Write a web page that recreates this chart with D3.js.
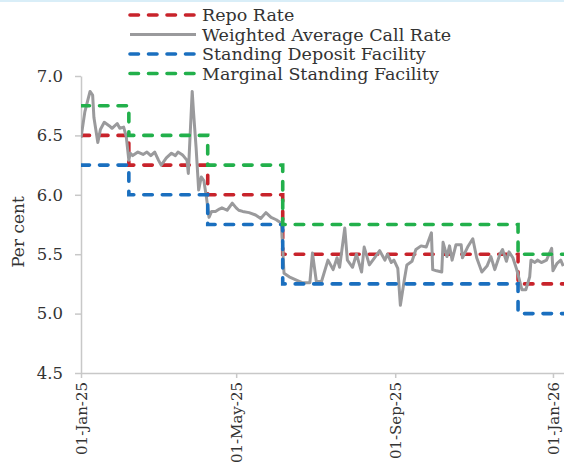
<!DOCTYPE html>
<html>
<head>
<meta charset="utf-8">
<script src="https://cdn.jsdelivr.net/npm/d3@7"></script>
<style>
  body { margin: 0; background: #fff; }
  #chart { width: 564px; height: 470px; }
  text { font-family: "DejaVu Serif", serif; fill: #333; }
</style>
</head>
<body>
<div id="chart"><svg></svg></div>
<script>
// policy corridor (step changes)
const policyDates = ["2025-01-01", "2025-02-07", "2025-04-09", "2025-06-06", "2025-12-05", "2026-01-10"];
const repoRate = [6.50, 6.25, 6.00, 5.50, 5.25];
const sdfRate = [6.25, 6.00, 5.75, 5.25, 5.00];
const msfRate = [6.75, 6.50, 6.25, 5.75, 5.50];

// weighted average call rate
const wacrDates = [
  "2025-01-01", "2025-01-04", "2025-01-08", "2025-01-10", "2025-01-11", "2025-01-14", "2025-01-16", "2025-01-19",
  "2025-01-23", "2025-01-25", "2025-01-29", "2025-01-31", "2025-02-03", "2025-02-05", "2025-02-07", "2025-02-08",
  "2025-02-10", "2025-02-14", "2025-02-18", "2025-02-21", "2025-02-24", "2025-02-27", "2025-03-02", "2025-03-04",
  "2025-03-06", "2025-03-08", "2025-03-12", "2025-03-15", "2025-03-17", "2025-03-20", "2025-03-21", "2025-03-24",
  "2025-03-25", "2025-03-28", "2025-03-29", "2025-03-31", "2025-04-02", "2025-04-04", "2025-04-06", "2025-04-08",
  "2025-04-10", "2025-04-12", "2025-04-15", "2025-04-18", "2025-04-20", "2025-04-24", "2025-04-28", "2025-05-01",
  "2025-05-03", "2025-05-06", "2025-05-11", "2025-05-16", "2025-05-20", "2025-05-24", "2025-05-28", "2025-06-01",
  "2025-06-05", "2025-06-07", "2025-06-11", "2025-06-17", "2025-06-21", "2025-06-27", "2025-06-29", "2025-07-02",
  "2025-07-06", "2025-07-11", "2025-07-15", "2025-07-18", "2025-07-20", "2025-07-24", "2025-07-26", "2025-07-30",
  "2025-08-02", "2025-08-06", "2025-08-08", "2025-08-12", "2025-08-16", "2025-08-20", "2025-08-24", "2025-08-26",
  "2025-08-29", "2025-08-31", "2025-09-03", "2025-09-05", "2025-09-08", "2025-09-10", "2025-09-14", "2025-09-17",
  "2025-09-21", "2025-09-25", "2025-09-29", "2025-09-30", "2025-10-03", "2025-10-07", "2025-10-08", "2025-10-11",
  "2025-10-13", "2025-10-15", "2025-10-18", "2025-10-22", "2025-10-23", "2025-10-27", "2025-10-31", "2025-11-03",
  "2025-11-07", "2025-11-11", "2025-11-14", "2025-11-17", "2025-11-21", "2025-11-23", "2025-11-26", "2025-11-28",
  "2025-12-01", "2025-12-04", "2025-12-08", "2025-12-11", "2025-12-14", "2025-12-15", "2025-12-18", "2025-12-20",
  "2025-12-23", "2025-12-27", "2025-12-29", "2025-12-31", "2026-01-01", "2026-01-04", "2026-01-07", "2026-01-09"
];
const wacrValues = [
  6.48, 6.70, 6.87, 6.84, 6.65, 6.44, 6.55, 6.61,
  6.58, 6.56, 6.60, 6.56, 6.57, 6.49, 6.29, 6.35,
  6.33, 6.36, 6.34, 6.36, 6.33, 6.36, 6.29, 6.25,
  6.28, 6.31, 6.35, 6.33, 6.36, 6.34, 6.33, 6.29,
  6.18, 6.87, 6.70, 6.40, 6.04, 6.15, 6.12, 5.98,
  5.81, 5.86, 5.86, 5.88, 5.89, 5.87, 5.93, 5.89,
  5.87, 5.86, 5.85, 5.83, 5.80, 5.85, 5.81, 5.79,
  5.76, 5.34, 5.31, 5.28, 5.26, 5.26, 5.51, 5.27,
  5.27, 5.45, 5.37, 5.47, 5.39, 5.72, 5.45, 5.39,
  5.50, 5.35, 5.56, 5.41, 5.47, 5.53, 5.45, 5.50,
  5.43, 5.45, 5.38, 5.07, 5.28, 5.41, 5.44, 5.54,
  5.57, 5.56, 5.68, 5.37, 5.36, 5.35, 5.60, 5.48,
  5.57, 5.45, 5.58, 5.58, 5.47, 5.56, 5.63, 5.47,
  5.35, 5.40, 5.48, 5.37, 5.50, 5.54, 5.44, 5.52,
  5.47, 5.37, 5.20, 5.20, 5.31, 5.45, 5.43, 5.45,
  5.43, 5.45, 5.50, 5.55, 5.36, 5.42, 5.45, 5.40
];

const xTicks = ["2025-01-01", "2025-05-01", "2025-09-01", "2026-01-01"];
const yTicks = [4.5, 5.0, 5.5, 6.0, 6.5, 7.0];

const seriesNames = ["Repo Rate", "Weighted Average Call Rate", "Standing Deposit Facility", "Marginal Standing Facility"];
const seriesColors = ["#c8232b", "#9a9a9c", "#1a6fbf", "#22b04b"];

let parse = d3.timeParse("%Y-%m-%d");
let chart = document.querySelector("#chart");
let svg = d3.select("#chart svg").attr("width", chart.offsetWidth).attr("height", chart.offsetHeight);

// faint band along the top edge
svg.append("rect").attr("x", 0).attr("y", 0).attr("width", 564).attr("height", 2).attr("fill", "#d9eef8");

let plotLeft = 81, plotTop = 76, plotBottom = 373, plotRight = 564.6;

let x = d3.scaleTime()
    .domain([parse("2025-01-01"), parse("2026-01-10")])
    .range([plotLeft, plotRight]);
let y = d3.scaleLinear().domain([4.5, 7.0]).range([plotBottom, plotTop]);

// axes
let xAxis = svg.append("g")
    .attr("transform", "translate(0," + plotBottom + ")")
    .call(d3.axisBottom(x).tickValues(xTicks.map(parse)).tickFormat(d3.timeFormat("%d-%b-%y")).tickSize(5).tickSizeOuter(0));
xAxis.select(".domain").attr("stroke", "#c8c8c8").attr("stroke-width", 1.5);
xAxis.selectAll(".tick line").attr("stroke", "#c8c8c8").attr("stroke-width", 1.5);
xAxis.selectAll(".tick text")
    .attr("font-size", 15)
    .attr("font-family", "DejaVu Serif")
    .attr("fill", "#333")
    .attr("transform", "rotate(-90)")
    .attr("text-anchor", "end")
    .attr("x", -9)
    .attr("y", 0)
    .attr("dy", "0.35em");

let yAxis = svg.append("g")
    .attr("transform", "translate(" + plotLeft + ",0)")
    .call(d3.axisLeft(y).tickValues(yTicks).tickFormat(d3.format(".1f")).tickSize(6).tickSizeOuter(0));
yAxis.select(".domain").attr("stroke", "#c8c8c8").attr("stroke-width", 1.5);
yAxis.selectAll(".tick line").attr("stroke", "#c8c8c8").attr("stroke-width", 1.5);
yAxis.selectAll(".tick text")
    .attr("font-size", 16.5)
    .attr("font-family", "DejaVu Serif")
    .attr("fill", "#333")
    .attr("x", -18);

svg.append("text")
    .attr("transform", "translate(24," + 232 + ") rotate(-90)")
    .attr("text-anchor", "middle")
    .attr("font-size", 17)
    .text("Per cent");

// clip the plot
svg.append("clipPath").attr("id", "plot")
    .append("rect").attr("x", plotLeft).attr("y", 0).attr("width", plotRight - plotLeft + 5).attr("height", plotBottom + 2);

let g = svg.append("g").attr("clip-path", "url(#plot)");

let stepLine = d3.line().curve(d3.curveStepAfter).x(d => x(d.date)).y(d => y(d.value));
let plainLine = d3.line().x(d => x(d.date)).y(d => y(d.value));

function stepData(rates) {
    let pts = rates.map((r, i) => ({date: parse(policyDates[i]), value: r}));
    pts.push({date: parse(policyDates[policyDates.length - 1]), value: rates[rates.length - 1]});
    return pts;
}

let wacr = wacrDates.map((d, i) => ({date: parse(d), value: wacrValues[i]}));

function dashed(data, color) {
    g.append("path")
        .datum(data)
        .attr("d", stepLine)
        .attr("fill", "none")
        .attr("stroke", color)
        .attr("stroke-width", 3.6)
        .attr("stroke-linecap", "round")
        .attr("stroke-dasharray", "8.5,10");
}

dashed(stepData(repoRate), seriesColors[0]);

g.append("path")
    .datum(wacr)
    .attr("d", plainLine)
    .attr("fill", "none")
    .attr("stroke", seriesColors[1])
    .attr("stroke-width", 3)
    .attr("stroke-linejoin", "round");

dashed(stepData(sdfRate), seriesColors[2]);
dashed(stepData(msfRate), seriesColors[3]);

// legend
let legend = svg.append("g")
    .selectAll("g")
    .data(seriesNames)
    .enter().append("g")
    .attr("transform", (d, i) => "translate(0," + (15 + i * 19.5) + ")");

legend.append("line")
    .attr("x1", 130).attr("x2", 196)
    .attr("y1", 0).attr("y2", 0)
    .attr("stroke", (d, i) => seriesColors[i])
    .attr("stroke-width", (d, i) => i === 1 ? 3 : 3.6)
    .attr("stroke-linecap", (d, i) => i === 1 ? "butt" : "round")
    .attr("stroke-dasharray", (d, i) => i === 1 ? null : "8.5,10");

legend.append("text")
    .attr("x", 202)
    .attr("y", 0)
    .attr("dy", "0.35em")
    .attr("font-size", 17.5)
    .text(d => d);
</script>
</body>
</html>
